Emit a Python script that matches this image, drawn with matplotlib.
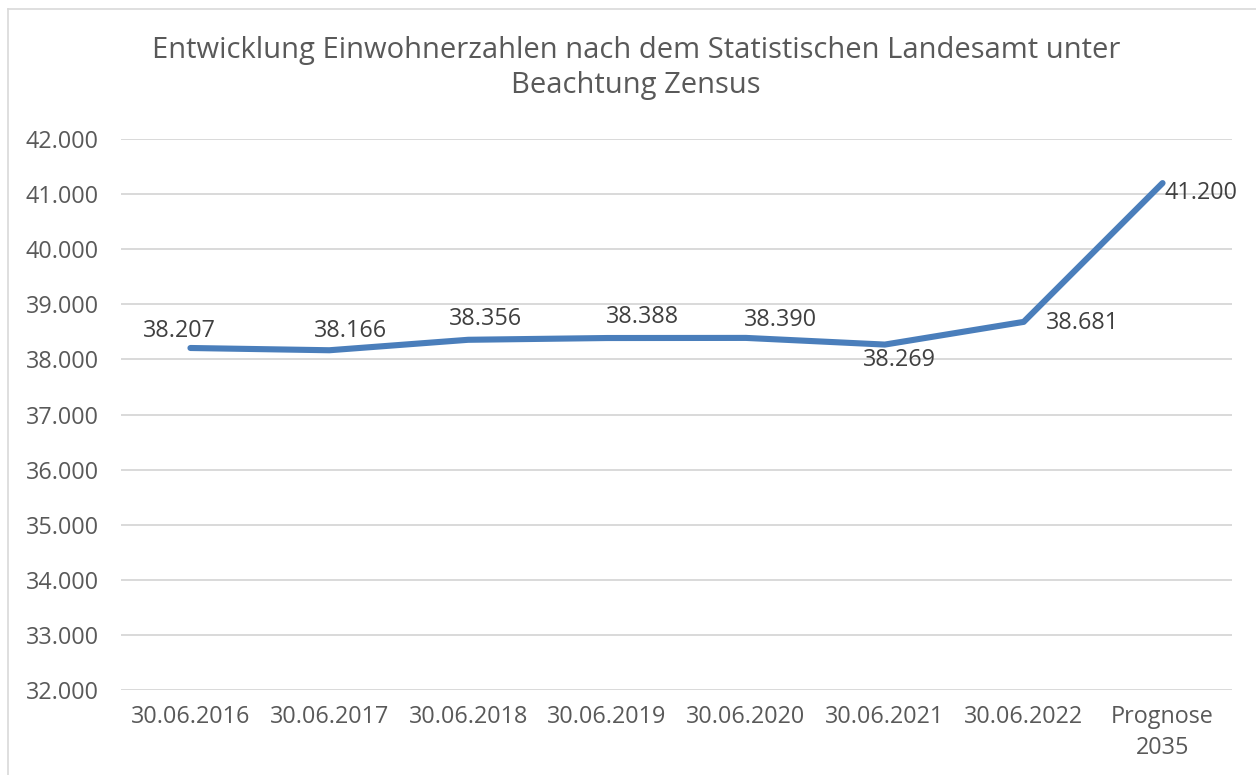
import matplotlib
matplotlib.use("Agg")
import matplotlib.pyplot as plt
from matplotlib.lines import Line2D

categories = ["30.06.2016", "30.06.2017", "30.06.2018", "30.06.2019",
              "30.06.2020", "30.06.2021", "30.06.2022", "Prognose\n2035"]
values = [38207, 38166, 38356, 38388, 38390, 38269, 38681, 41200]
labels = ["38.207", "38.166", "38.356", "38.388", "38.390", "38.269", "38.681", "41.200"]
yticks = [32000, 33000, 34000, 35000, 36000, 37000, 38000, 39000, 40000, 41000, 42000]
ytick_labels = ["32.000", "33.000", "34.000", "35.000", "36.000", "37.000",
                "38.000", "39.000", "40.000", "41.000", "42.000"]
title = "Entwicklung Einwohnerzahlen nach dem Statistischen Landesamt unter\nBeachtung Zensus"

# label offsets in pixels (dx, dy)
offsets = [(-11, 17), (21, 19), (17, 21), (35, 21), (35, 18), (15, -15), (59, -1), (38, -10)]

plt.rcParams['font.family'] = ['Open Sans', 'DejaVu Sans']
txt = "#595959"

fig = plt.figure(figsize=(12.56, 7.75), dpi=100)
ax = fig.add_axes([121/1256, 1-690/775, (1232-121)/1256, (690-139)/775])

x = list(range(len(categories)))
ax.plot(x, values, color="#4A7EBB", lw=4.4, solid_capstyle="round", solid_joinstyle="round", zorder=3)
for xi, v, lab, (dx, dy) in zip(x, values, labels, offsets):
    ax.annotate(lab, (xi, v), xytext=(dx, dy), textcoords="offset pixels",
                ha="center", va="center", fontsize=16.8, color="#404040", zorder=4)

ax.set_xlim(-0.5, len(categories) - 0.5)
ax.set_ylim(32000, 42000)
ax.set_yticks(yticks)
ax.set_yticklabels(ytick_labels)
ax.set_xticks(x)
ax.set_xticklabels(categories, linespacing=1.35)
ax.tick_params(axis="both", length=0, labelsize=16.8, colors=txt)
ax.tick_params(axis="y", pad=16)
ax.tick_params(axis="x", pad=11)
ax.grid(axis="y", color="#D9D9D9", lw=1.4)
ax.set_axisbelow(True)
for s in ax.spines.values():
    s.set_visible(False)

fig.text(636/1256, 1-68/775, title, ha="center", va="center", fontsize=21,
         color=txt, linespacing=1.3)

# chart border
fig.add_artist(Line2D([7.5/1256, 7.5/1256], [0, 1-9/775], transform=fig.transFigure, color="#D9D9D9", lw=1.2))
fig.add_artist(Line2D([7.5/1256, 1], [1-9/775, 1-9/775], transform=fig.transFigure, color="#D9D9D9", lw=1.2))

fig.savefig("out.png", dpi=100)
